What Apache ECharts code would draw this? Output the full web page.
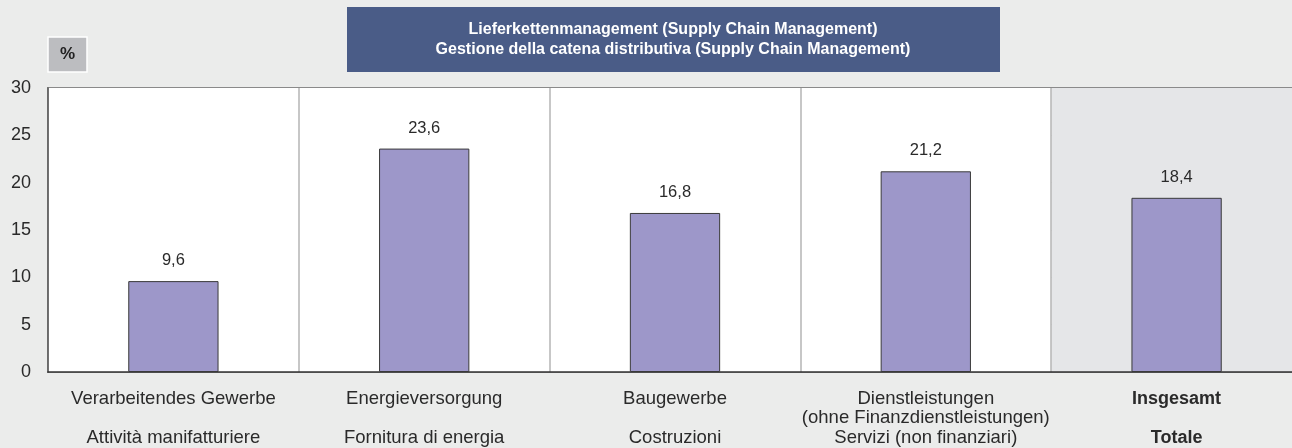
<!DOCTYPE html>
<html>
<head>
<meta charset="utf-8">
<title>Lieferkettenmanagement</title>
<script src="https://cdn.jsdelivr.net/npm/echarts@6/dist/echarts.min.js"></script>
<style>
	html, body { margin: 0; padding: 0; background: #ebeceb; overflow: hidden; }
	/* Plotfläche läuft rechts etwas über den Rand hinaus */
	#chart { width: 1302px; height: 448px; }
</style>
</head>
<body>
<div id="chart"></div>
<script>
// Daten / dati
var categoriesDe = ['Verarbeitendes Gewerbe', 'Energieversorgung', 'Baugewerbe', 'Dienstleistungen\n(ohne Finanzdienstleistungen)', 'Insgesamt'];
var categoriesIt = ['Attività manifatturiere', 'Fornitura di energia', 'Costruzioni', 'Servizi (non finanziari)', 'Totale'];
var values = [9.6, 23.6, 16.8, 21.2, 18.4];
var yTicks = [0, 5, 10, 15, 20, 25, 30];
var titleLines = ['Lieferkettenmanagement (Supply Chain Management)', 'Gestione della catena distributiva (Supply Chain Management)'];
var unitLabel = '%';

var main = {
	el: 'chart',
	font: '"Liberation Sans", Arial, sans-serif',
	init: function() {
		var myChart = echarts.init(document.getElementById(this.el));
		myChart.setOption(this.getOption());
	},
	// zwei Zeilen pro Kategorie, "Insgesamt" fett
	labelFormatter: function(value, index) {
		var de = categoriesDe[index];
		var it = categoriesIt[index];
		if (index === categoriesDe.length - 1) {
			return '{b|' + de + '}\n\n{b|' + it + '}';
		}
		if (de.indexOf('\n') > -1) {
			return de + '\n' + it;
		}
		return de + '\n\n' + it;
	},
	getOption: function() {
		var font = this.font;
		return {
			backgroundColor: '#ebeceb',
			animation: false,
			textStyle: { fontFamily: font },
			graphic: [
				{
					type: 'rect',
					x: 347, y: 7,
					shape: { width: 653, height: 65 },
					style: { fill: '#4a5c87' }
				},
				{
					type: 'text',
					x: 673, y: 19,
					style: {
						text: titleLines.join('\n'),
						fill: '#ffffff',
						font: 'bold 16px ' + font,
						lineHeight: 20.5,
						align: 'center'
					}
				},
				{
					type: 'rect',
					x: 48, y: 37,
					shape: { width: 39, height: 35 },
					style: { fill: '#bcbdc0', stroke: '#ffffff', lineWidth: 1.5 }
				},
				{
					type: 'text',
					x: 67.5, y: 46,
					style: {
						text: unitLabel,
						fill: '#222',
						font: 'bold 17px ' + font,
						align: 'center'
					}
				}
			],
			grid: {
				left: 48,
				top: 88,
				right: 0,
				bottom: 76,
				show: true,
				backgroundColor: '#ffffff',
				borderColor: '#8a8a8a',
				borderWidth: 2
			},
			xAxis: {
				type: 'category',
				data: categoriesDe,
				axisLine: { lineStyle: { color: '#333', width: 1.5 } },
				axisTick: { show: false },
				splitLine: { show: true, lineStyle: { color: '#b4b4b4', width: 1.5 } },
				splitArea: {
					show: true,
					areaStyle: { color: ['#ffffff', '#ffffff', '#ffffff', '#ffffff', '#e5e6e8'] }
				},
				axisLabel: {
					interval: 0,
					margin: 17,
					fontSize: 18.5,
					lineHeight: 19.5,
					color: '#2a2a2a',
					formatter: this.labelFormatter,
					rich: {
						b: { fontWeight: 'bold', fontSize: 18, lineHeight: 19.5, color: '#2a2a2a' }
					}
				}
			},
			yAxis: {
				type: 'value',
				min: yTicks[0],
				max: yTicks[yTicks.length - 1],
				interval: 5,
				axisLine: { show: true, lineStyle: { color: '#555', width: 1.5 } },
				axisTick: { show: false },
				axisLabel: { margin: 17, fontSize: 18, color: '#2a2a2a' },
				splitLine: { lineStyle: { color: '#9a9a9a', width: 1 } }
			},
			series: [
				{
					name: 'Lieferkettenmanagement',
					type: 'bar',
					data: values,
					barWidth: '36%',
					itemStyle: { color: '#9d97c9', borderColor: '#3a3a3a', borderWidth: 1 },
					label: {
						show: true,
						position: 'top',
						distance: 12,
						fontSize: 16.5,
						color: '#2a2a2a',
						formatter: function(p) {
							return String(p.value).replace('.', ',');
						}
					}
				}
			]
		};
	}
};

main.init();
</script>
</body>
</html>
